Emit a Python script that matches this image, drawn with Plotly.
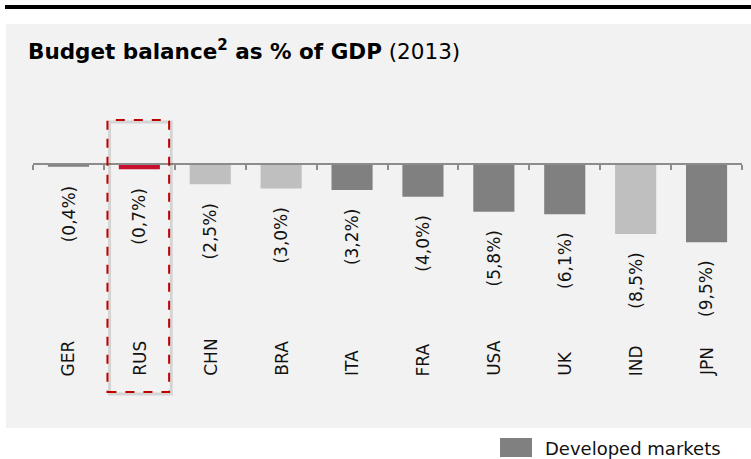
import plotly.graph_objects as go

countries = ["GER", "RUS", "CHN", "BRA", "ITA", "FRA", "USA", "UK", "IND", "JPN"]
balance = [-0.4, -0.7, -2.5, -3.0, -3.2, -4.0, -5.8, -6.1, -8.5, -9.5]
group = ["dev", "rus", "em", "em", "dev", "dev", "dev", "dev", "em", "dev"]
value_labels = ["(0,4%)", "(0,7%)", "(2,5%)", "(3,0%)", "(3,2%)", "(4,0%)", "(5,8%)", "(6,1%)", "(8,5%)", "(9,5%)"]
legend_label = "Developed markets"

palette = {"dev": "#808080", "em": "#bfbfbf", "rus": "#c8102e"}
colors = [palette[g] for g in group]

W, H = 751, 459
L, R, T, B = 33, 9, 120, 67
ph = H - T - B  # plot height px
pw = W - L - R
k = 8.3  # px per unit
zero_px = 163.5
ymax = (zero_px - T) / k
ymin = ymax - ph / k

def px_x(x):
    return (x - L) / pw

def px_y(y):
    return (H - B - y) / ph

fig = go.Figure()
fig.add_trace(go.Bar(x=countries, y=balance, marker=dict(color=colors, line=dict(width=0)),
                     width=0.58, showlegend=False, hoverinfo="skip"))

font = "DejaVu Sans"
annotations = []
for c, v, lab in zip(countries, balance, value_labels):
    annotations.append(dict(x=c, y=v, xref="x", yref="y", text=lab, textangle=-90,
                            showarrow=False, yanchor="top", xanchor="center", yshift=-17,
                            font=dict(family=font, size=17, color="#111")))
    annotations.append(dict(x=c, y=px_y(378), xref="x", yref="paper", text=c, textangle=-90,
                            showarrow=False, yanchor="bottom", xanchor="center",
                            font=dict(family=font, size=17, color="#111")))

annotations.append(dict(x=px_x(26), y=px_y(50), xref="paper", yref="paper", xanchor="left",
                        yanchor="middle", showarrow=False,
                        text="<b>Budget balance<sup>2</sup> as % of GDP</b> (2013)",
                        font=dict(family=font, size=21.5, color="#000")))
annotations.append(dict(x=px_x(543), y=px_y(448), xref="paper", yref="paper", xanchor="left",
                        yanchor="middle", showarrow=False, text=legend_label,
                        font=dict(family=font, size=18, color="#111")))

shapes = [
    dict(type="rect", xref="paper", yref="paper", x0=px_x(6), x1=px_x(751), y0=px_y(428), y1=px_y(24),
         fillcolor="#f2f2f2", line=dict(width=0), layer="below"),
    dict(type="rect", xref="paper", yref="paper", x0=px_x(5), x1=px_x(751), y0=px_y(9), y1=px_y(5),
         fillcolor="#000", line=dict(width=0), layer="below"),
    dict(type="rect", xref="paper", yref="paper", x0=px_x(500), x1=px_x(532), y0=px_y(457), y1=px_y(438),
         fillcolor=palette["dev"], line=dict(width=0)),
    # shadow of highlight box
    dict(type="rect", xref="x", yref="paper", x0=0.58, x1=1.45, y0=px_y(394), y1=px_y(122),
         line=dict(color="rgba(0,0,0,0.12)", width=3), layer="above"),
    dict(type="rect", xref="x", yref="paper", x0=0.55, x1=1.42, y0=0, y1=1,
         line=dict(color="#c00000", width=2, dash="dash"), layer="above"),
]

fig.update_layout(
    width=W, height=H, margin=dict(l=L, r=R, t=T, b=B),
    paper_bgcolor="white", plot_bgcolor="rgba(0,0,0,0)",
    xaxis=dict(range=[-0.5, 9.5], showline=True, linecolor="#8c8c8c", linewidth=2,
               ticks="outside", tickson="boundaries", ticklen=5, tickwidth=2, tickcolor="#8c8c8c",
               showticklabels=False, showgrid=False, anchor="free", position=px_y(zero_px), zeroline=False),
    yaxis=dict(range=[ymin, ymax], visible=False, showgrid=False, zeroline=False),
    annotations=annotations, shapes=shapes, bargap=0.42,
)
fig.write_html("out.html", config={"displayModeBar": False},
               post_script="document.body.style.margin='0';document.body.style.overflow='hidden';")
